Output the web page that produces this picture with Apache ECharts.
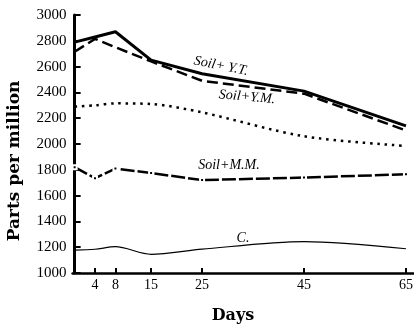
<!DOCTYPE html>
<html>
<head>
<meta charset="utf-8">
<script src="https://cdn.jsdelivr.net/npm/echarts@6/dist/echarts.min.js"></script>
<style>
  html, body { margin: 0; padding: 0; background: #fff; }
  #chart { width: 414px; height: 330px; }
</style>
</head>
<body>
<div id="chart"></div>
<script>
// Sampling days (x) and concentrations in parts per million (y)
const days = [0, 4, 8, 15, 25, 45, 65];
const dayTicks = [4, 8, 15, 25, 45, 65];

const soilYT = [2790, 2830, 2870, 2650, 2545, 2410, 2140];
const soilYM = [2715, 2815, 2750, 2640, 2490, 2390, 2105];
const dotted = [2290, 2300, 2315, 2310, 2245, 2060, 1985];
const soilMM = [1820, 1735, 1810, 1775, 1720, 1740, 1765];
const control = [1178, 1184, 1204, 1145, 1185, 1243, 1188];

const pairs = vals => days.map((d, i) => [d, vals[i]]);

const serif = '"Liberation Serif", "DejaVu Serif", serif';

const chart = echarts.init(document.getElementById('chart'), null, { renderer: 'canvas' });

chart.setOption({
  backgroundColor: '#fff',
  animation: false,
  grid: { left: 72.6, top: 15, width: 341, height: 258, outerBoundsMode: 'none' },
  xAxis: {
    type: 'value',
    min: -0.4,
    max: 66.5,
    splitLine: { show: false },
    axisLine: { show: true, lineStyle: { color: '#000', width: 2.5 } },
    axisTick: { show: true, inside: true, length: 5, customValues: dayTicks, lineStyle: { color: '#000', width: 2 } },
    axisLabel: { customValues: dayTicks, color: '#000', fontFamily: serif, fontSize: 14, margin: 5 }
  },
  yAxis: {
    type: 'value',
    min: 1000,
    max: 3000,
    interval: 200,
    splitLine: { show: false },
    axisLine: { show: true, lineStyle: { color: '#000', width: 3 } },
    axisTick: { show: true, inside: true, length: 6, lineStyle: { color: '#000', width: 2 } },
    axisLabel: { color: '#000', fontFamily: serif, fontSize: 15, margin: 6, formatter: v => String(v) }
  },
  series: [
    {
      name: 'Soil+ Y.T.', type: 'line', data: pairs(soilYT), symbol: 'none',
      lineStyle: { color: '#000', width: 3 }
    },
    {
      name: 'Soil+Y.M.', type: 'line', data: pairs(soilYM), symbol: 'none',
      lineStyle: { color: '#000', width: 2.5, type: [11, 5] }
    },
    {
      name: 'dotted', type: 'line', data: pairs(dotted), symbol: 'none', smooth: 0.3,
      lineStyle: { color: '#000', width: 2.5, type: [2.5, 4.8] }
    },
    {
      name: 'Soil+M.M.', type: 'line', data: pairs(soilMM),
      symbol: 'rect', symbolSize: 4, showSymbol: true,
      itemStyle: { color: '#000', borderColor: '#fff', borderWidth: 2 },
      lineStyle: { color: '#000', width: 2.5, type: [14, 3] }
    },
    {
      name: 'C.', type: 'line', data: pairs(control), symbol: 'none', smooth: 0.3,
      lineStyle: { color: '#000', width: 1.2 }
    }
  ],
  graphic: [
    {
      type: 'text', x: 14.5, y: 161, rotation: Math.PI / 2,
      style: { text: 'Parts per million', font: 'bold 17px "DejaVu Serif", serif', fill: '#000', align: 'center', verticalAlign: 'middle' }
    },
    {
      type: 'text', x: 233, y: 316,
      style: { text: 'Days', font: 'bold 16px "DejaVu Serif", serif', fill: '#000', align: 'center', verticalAlign: 'middle' }
    },
    {
      type: 'text', x: 221, y: 66, rotation: -0.2,
      style: { text: 'Soil+ Y.T.', font: 'italic 14px "Liberation Serif", serif', fill: '#000', align: 'center', verticalAlign: 'middle' }
    },
    {
      type: 'text', x: 247, y: 97, rotation: -0.09,
      style: { text: 'Soil+Y.M.', font: 'italic 14px "Liberation Serif", serif', fill: '#000', align: 'center', verticalAlign: 'middle' }
    },
    {
      type: 'text', x: 229, y: 165,
      style: { text: 'Soil+M.M.', font: 'italic 14px "Liberation Serif", serif', fill: '#000', align: 'center', verticalAlign: 'middle' }
    },
    {
      type: 'text', x: 243, y: 238,
      style: { text: 'C.', font: 'italic 14px "Liberation Serif", serif', fill: '#000', align: 'center', verticalAlign: 'middle' }
    }
  ]
});
</script>
</body>
</html>
